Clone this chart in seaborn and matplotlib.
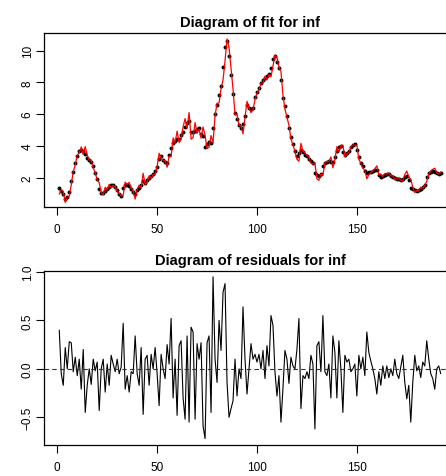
import numpy as np
import pandas as pd
import matplotlib
matplotlib.use("Agg")
import matplotlib.pyplot as plt
import seaborn as sns

# observed series (black points)
observed = [
    1.35, 1.15, 0.95, 0.65, 0.75, 1.10, 1.80, 2.35, 2.90, 3.35,
    3.65, 3.72, 3.65, 3.50, 3.25, 3.10, 2.95, 2.70, 2.30, 1.90,
    1.25, 1.05, 1.00, 1.15, 1.25, 1.40, 1.50, 1.55, 1.40, 1.20,
    0.95, 0.85, 1.35, 1.50, 1.50, 1.45, 1.30, 1.10, 0.98, 1.20,
    1.35, 1.55, 1.80, 1.65, 1.85, 1.95, 2.10, 2.20, 2.40, 2.65,
    3.15, 3.35, 3.10, 2.95, 2.90, 3.40, 3.85, 4.20, 4.30, 4.45,
    4.45, 4.70, 4.90, 5.20, 5.45, 5.55, 4.85, 4.90, 4.95, 5.05,
    5.15, 4.75, 4.60, 3.95, 4.10, 4.25, 4.20, 5.15, 6.00, 6.55,
    7.20, 7.80, 8.95, 10.25, 10.60, 9.70, 8.50, 7.25, 6.05, 5.70,
    5.30, 5.15, 5.40, 5.90, 6.55, 6.40, 6.35, 6.40, 7.05, 7.40,
    7.65, 7.95, 8.15, 8.30, 8.40, 8.55, 8.90, 9.50, 9.70, 9.30,
    8.90, 8.15, 7.00, 6.50, 5.90, 5.15, 4.55, 4.10, 3.65, 3.35,
    3.55, 3.75, 3.60, 3.45, 3.35, 3.20, 3.05, 2.90, 2.30, 2.15,
    2.10, 2.20, 2.70, 2.90, 2.95, 3.05, 3.00, 2.95, 3.30, 3.65,
    3.90, 4.00, 3.60, 3.45, 3.55, 3.70, 3.90, 4.05, 4.10, 3.75,
    3.30, 2.90, 2.70, 2.40, 2.30, 2.35, 2.38, 2.42, 2.45, 2.48,
    2.15, 2.05, 2.10, 2.15, 2.25, 2.20, 2.10, 2.05, 1.97, 1.92,
    1.88, 1.85, 1.93, 2.05, 2.10, 1.85, 1.35, 1.25, 1.20, 1.15,
    1.22, 1.30, 1.40, 1.55, 2.05, 2.30, 2.38, 2.42, 2.38, 2.30,
    2.25, 2.30,
]

# residuals (observed - fitted)
residuals = [
    0.40, -0.05, -0.17, 0.22, 0.00, 0.28, 0.27, -0.03, 0.12, -0.07,
    0.10, -0.21, 0.20, -0.45, -0.17, 0.00, -0.16, 0.10, -0.02, 0.07,
    -0.43, 0.00, 0.10, -0.24, 0.05, -0.17, 0.14, 0.05, -0.03, 0.10,
    -0.05, 0.02, 0.47, -0.21, -0.07, -0.24, -0.03, -0.05, 0.34, -0.05,
    -0.17, 0.22, -0.47, 0.10, 0.14, -0.17, 0.15, 0.00, 0.22, -0.05,
    -0.38, 0.15, 0.00, -0.10, 0.25, 0.05, 0.52, -0.30, 0.10, -0.48,
    0.24, 0.29, -0.30, -0.52, 0.34, -0.55, 0.43, 0.38, -0.52, 0.26,
    0.10, 0.27, -0.59, -0.72, 0.27, 0.34, -0.45, 0.95, 0.10, -0.14,
    0.50, 0.19, 0.79, 0.88, -0.14, -0.50, -0.41, -0.33, 0.10, -0.28,
    0.00, -0.10, 0.64, 0.10, -0.26, 0.00, 0.26, 0.10, 0.15, 0.07,
    0.15, 0.00, 0.19, -0.10, 0.24, 0.03, 0.55, 0.45, -0.03, -0.28,
    -0.07, -0.55, -0.20, 0.19, 0.10, -0.15, 0.12, 0.03, 0.00, 0.20,
    0.52, -0.41, -0.07, -0.10, -0.03, -0.10, 0.14, 0.05, -0.62, 0.24,
    0.28, -0.03, 0.55, -0.03, -0.07, 0.05, -0.30, 0.34, 0.17, -0.30,
    0.29, 0.00, -0.45, 0.14, 0.07, 0.10, -0.03, 0.00, 0.05, -0.28,
    0.14, 0.00, 0.12, -0.07, 0.38, 0.17, 0.08, 0.00, -0.10, -0.26,
    -0.03, -0.17, 0.03, -0.10, 0.03, -0.09, 0.00, -0.07, 0.10, -0.05,
    -0.10, 0.02, 0.14, -0.14, -0.31, -0.17, -0.55, -0.14, 0.14, -0.02,
    0.03, -0.09, 0.07, 0.03, 0.29, 0.10, -0.05, -0.10, -0.21, 0.00,
    0.03, -0.05,
]

assert len(observed) == len(residuals)
t = np.arange(1, len(observed) + 1)
df = pd.DataFrame({"t": t, "observed": observed, "residual": residuals})
df["fitted"] = df["observed"] - df["residual"]

sns.set_style("white")
plt.rcParams["font.family"] = ["Liberation Sans", "DejaVu Sans"]
plt.rcParams["text.color"] = "black"

W, H = 446, 477
fig = plt.figure(figsize=(W / 100, H / 100), dpi=100)

def box(l, t_, r, b):
    return [l / W, 1 - b / H, (r - l) / W, (b - t_) / H]

ax1 = fig.add_axes(box(44, 34, 456, 208))
ax2 = fig.add_axes(box(44, 272, 456, 446))

n = len(t)
xpad = 0.04 * (n - 1)
xlim = (1 - xpad, n + xpad)

# top: fit
sns.lineplot(data=df, x="t", y="fitted", ax=ax1, color="#ff0000", lw=0.9, sort=False)
sns.scatterplot(data=df, x="t", y="observed", ax=ax1, color="black", s=8, linewidth=0)
ax1.set_xlim(xlim)
ax1.set_ylim(0.14, 11.12)
ax1.set_yticks([2, 4, 6, 8, 10])
ax1.set_title("Diagram of fit for inf", fontsize=10.5, fontweight="bold",
              color="black", pad=5)

# bottom: residuals
sns.lineplot(data=df, x="t", y="residual", ax=ax2, color="black", lw=0.8, sort=False)
ax2.axhline(0, color="#333333", lw=0.8, ls=(0, (4, 3)))
ax2.set_xlim(xlim)
ax2.set_ylim(-0.786, 1.01)
ax2.set_yticks([-0.5, 0.0, 0.5, 1.0])
ax2.set_yticklabels(["\u22120.5", "0.0", "0.5", "1.0"])
ax2.set_title("Diagram of residuals for inf", fontsize=10.5, fontweight="bold",
              color="black", pad=5)

for ax in (ax1, ax2):
    ax.set_xticks([0, 50, 100, 150])
    ax.set_xlabel("")
    ax.set_ylabel("")
    ax.tick_params(direction="out", length=5.5, width=0.8, labelsize=8.5,
                   bottom=True, left=True, colors="black")
    ax.tick_params(axis="x", pad=6)
    ax.tick_params(axis="y", pad=2)
    for lab in ax.get_yticklabels():
        lab.set_rotation(90)
        lab.set_va("center")
    for s in ax.spines.values():
        s.set_color("black")
        s.set_linewidth(0.9)

fig.savefig("out.png", dpi=100)
